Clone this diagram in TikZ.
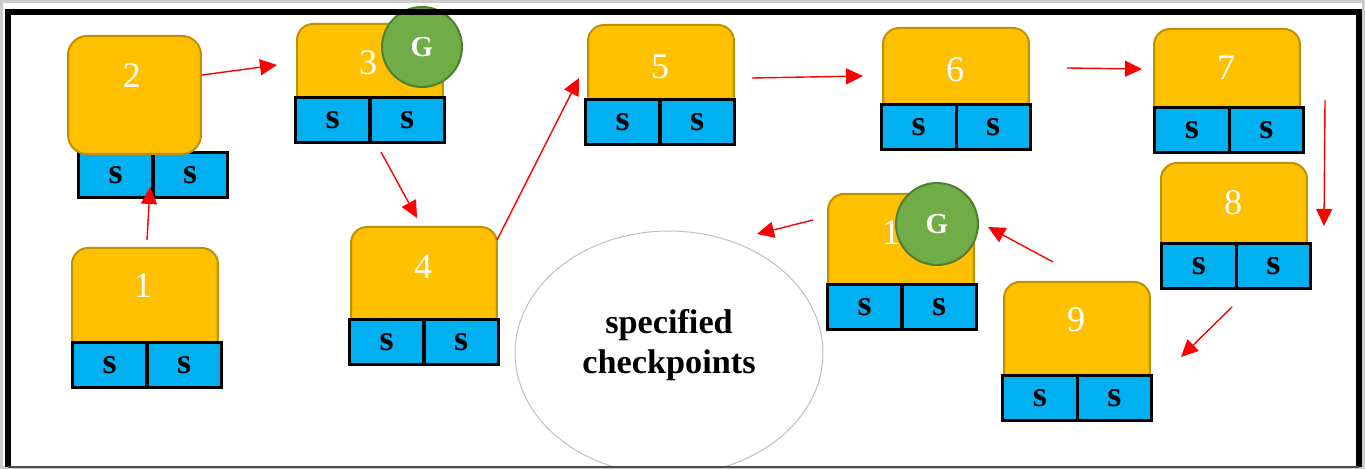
\documentclass[tikz,border=0pt]{standalone}
\usepackage{fontspec}
\setmainfont{Liberation Serif}
\usetikzlibrary{arrows.meta,shapes.geometric}
\definecolor{gold}{HTML}{FFC000}
\definecolor{goldline}{HTML}{BF9000}
\definecolor{cellblue}{HTML}{00B0F0}
\definecolor{ggreen}{HTML}{70AD47}
\definecolor{ggreenline}{HTML}{507E32}
\definecolor{ovalline}{HTML}{BFBFBF}
\begin{document}
\begin{tikzpicture}[x=0.02cm, y=-0.02cm,
  ybox/.style={draw=goldline, fill=gold, line width=0.04cm, rounded corners=0.32cm,
    anchor=north west, inner sep=0pt, minimum width=2.92cm},
  cell/.style={draw=black, fill=cellblue, line width=0.06cm, anchor=north west, inner sep=0pt,
    minimum width=1.49cm, minimum height=0.9cm, font=\fontsize{20.5}{24}\selectfont\bfseries},
  num/.style={text=white, inner sep=0pt, font=\fontsize{20.5}{24}\selectfont},
  gnode/.style={circle, draw=ggreenline, fill=ggreen, line width=0.04cm, minimum size=1.6cm,
    inner sep=0pt, text=white, font=\fontsize{16.5}{18}\selectfont\bfseries},
  flow/.style={draw=red, line width=0.028cm, -{Triangle[length=0.34cm, width=0.32cm]}}]

 \useasboundingbox (0,0) rectangle (1365,469);
 \draw[black!20, line width=0.06cm] (1.5,1.5) rectangle (1363.5,467.5);

 % yellow tops
 \node[ybox, minimum height=2.1cm] (y1) at (71,247) {};
 \node[ybox, minimum height=1.72cm] (y3) at (296,23) {};
 \node[ybox, minimum height=2.08cm] (y4) at (350,226) {};
 \node[ybox, minimum height=1.72cm] (y5) at (587,24) {};
 \node[ybox, minimum height=1.76cm] (y6) at (882,27) {};
 \node[ybox, minimum height=1.8cm] (y7) at (1153,28) {};
 \node[ybox, minimum height=1.84cm] (y8) at (1160,162) {};
 \node[ybox, minimum height=2.1cm] (y9) at (1003,281) {};
 \node[ybox, minimum height=2.04cm] (y10) at (827,193) {};

 \node[num] (n1) at (143,286) {1};
 \node[num] (n3) at (368,63) {3};
 \node[num] (n4) at (423,267) {4};
 \node[num] (n5) at (660,67) {5};
 \node[num] (n6) at (955,70) {6};
 \node[num] (n7) at (1226,68) {7};
 \node[num] (n8) at (1233,203) {8};
 \node[num] (n9) at (1076,320) {9};
 \node[num] (n10) at (900,233) {10};

 % s cells
 \node[cell] (s1a) at (71,341) {s};     \node[cell] (s1b) at (145.5,341) {s};
 \node[cell] (s2a) at (77,151) {s};     \node[cell] (s2b) at (151.5,151) {s};
 \node[cell] (s3a) at (294,96) {s};     \node[cell] (s3b) at (368.5,96) {s};
 \node[cell] (s4a) at (348,318) {s};    \node[cell] (s4b) at (422.5,318) {s};
 \node[cell] (s5a) at (584,98) {s};     \node[cell] (s5b) at (658.5,98) {s};
 \node[cell] (s6a) at (880,103) {s};    \node[cell] (s6b) at (954.5,103) {s};
 \node[cell] (s7a) at (1153,106) {s};   \node[cell] (s7b) at (1227.5,106) {s};
 \node[cell] (s8a) at (1160,242) {s};   \node[cell] (s8b) at (1234.5,242) {s};
 \node[cell] (s9a) at (1001,374) {s};   \node[cell] (s9b) at (1075.5,374) {s};
 \node[cell] (s10a) at (826,283) {s};   \node[cell] (s10b) at (900.5,283) {s};

 % box 2 sits over its cells
 \node[ybox, minimum width=2.66cm, minimum height=2.36cm, rounded corners=0.38cm] (y2) at (67,35) {};
 \node[num] (n2) at (132,76) {2};

 \node[gnode] (g3) at (422,47) {G};
 \node[gnode, minimum size=1.64cm] (g10) at (937,224) {G};

 \begin{scope}
  \clip (8,12) rectangle (1359,466);
  \node[ellipse, draw=ovalline, line width=0.02cm, minimum width=6.16cm, minimum height=4.88cm] (chk) at (669,353) {};
 \end{scope}
 \node[align=center, inner sep=0pt, font=\fontsize{19.5}{23}\selectfont\bfseries] (chktxt) at (669,345) {specified\\checkpoints};

 % frame
 \draw[line width=0.13cm] (8,467) -- (8,12) -- (1359,12) -- (1359,467);
 \draw[black!70, line width=0.04cm] (8,467) -- (1359,467);

 % arrows
 \coordinate (out1) at (147,240);  \coordinate (in2) at (150,187);
 \coordinate (out2) at (202,75);   \coordinate (in3) at (277,65);
 \coordinate (out3) at (381,152);  \coordinate (in4) at (417,218);
 \coordinate (out4) at (497,240);  \coordinate (in5) at (579,78);
 \coordinate (out5) at (752,78);   \coordinate (in6) at (863,76);
 \coordinate (out6) at (1067,68);  \coordinate (in7) at (1142,69);
 \coordinate (out7) at (1325,100); \coordinate (in8) at (1324,226);
 \coordinate (out8) at (1232,307); \coordinate (in9) at (1181,357);
 \coordinate (out9) at (1053,262); \coordinate (in10) at (988,227);
 \coordinate (out10) at (813,220); \coordinate (inchk) at (757,234);
 \draw[flow] (out1) -- (in2);
 \draw[flow] (out2) -- (in3);
 \draw[flow] (out3) -- (in4);
 \draw[flow] (out4) -- (in5);
 \draw[flow] (out5) -- (in6);
 \draw[flow] (out6) -- (in7);
 \draw[flow] (out7) -- (in8);
 \draw[flow] (out8) -- (in9);
 \draw[flow] (out9) -- (in10);
 \draw[flow] (out10) -- (inchk);

\end{tikzpicture}
\end{document}
